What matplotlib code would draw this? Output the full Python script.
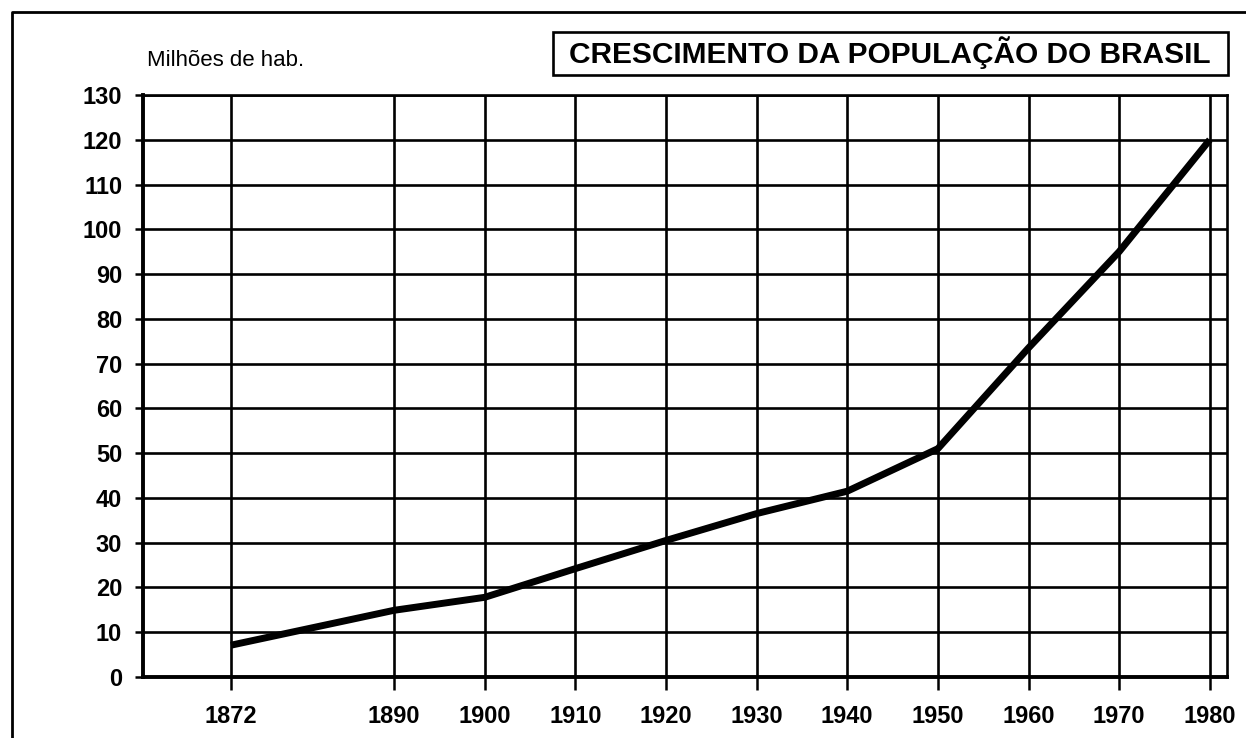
import matplotlib.pyplot as plt
from matplotlib.patches import Rectangle
from matplotlib.lines import Line2D

# census years and population (millions)
anos = [1872, 1890, 1900, 1910, 1920, 1930, 1940, 1950, 1960, 1970, 1980]
populacao = [7.1, 14.9, 17.8, 24.2, 30.5, 36.5, 41.5, 51.0, 73.5, 95.0, 120.0]
y_ticks = list(range(0, 131, 10))

plt.rcParams['font.family'] = ['Liberation Sans', 'DejaVu Sans']

W, H = 1246, 738
fig = plt.figure(figsize=(W / 100, H / 100), dpi=100)
ax = fig.add_axes([143 / W, (H - 677) / H, (1227 - 143) / W, (677 - 95) / H])

ax.plot(anos, populacao, color='black', linewidth=5, solid_capstyle='butt', zorder=3)

ax.set_xlim(1862.3, 1981.9)
ax.set_ylim(0, 130)
ax.set_xticks(anos)
ax.set_xticklabels([str(a) for a in anos], fontsize=17, fontweight='bold')
ax.set_yticks(y_ticks)
ax.set_yticklabels([str(v) for v in y_ticks], fontsize=17, fontweight='bold')
ax.tick_params(axis='x', length=9, width=1.8, pad=11, direction='out')
ax.tick_params(axis='y', length=6, width=1.8, pad=9, direction='out')
ax.grid(True, color='black', linewidth=1.9)

for s in ax.spines.values():
    s.set_linewidth(1.9)
ax.spines['left'].set_linewidth(2.8)
ax.spines['bottom'].set_linewidth(2.8)

# unit label
fig.text(147 / W, 1 - 60 / H, 'Milhões de hab.', fontsize=16, va='center', ha='left')

# boxed title
fig.patches.append(Rectangle((553 / W, 1 - 75 / H), (1228 - 553) / W, (75 - 32) / H,
                             transform=fig.transFigure, fill=False,
                             edgecolor='black', linewidth=1.9))
fig.text(890 / W, 1 - 53 / H, 'CRESCIMENTO DA POPULAÇÃO DO BRASIL',
         fontsize=21.5, fontweight='bold', ha='center', va='center')

# outer page border (top and left)
fig.lines.append(Line2D([12 / W, 12 / W, 1], [0, 1 - 12 / H, 1 - 12 / H],
                        transform=fig.transFigure, color='black', linewidth=2))

fig.savefig('out.png', dpi=100)
